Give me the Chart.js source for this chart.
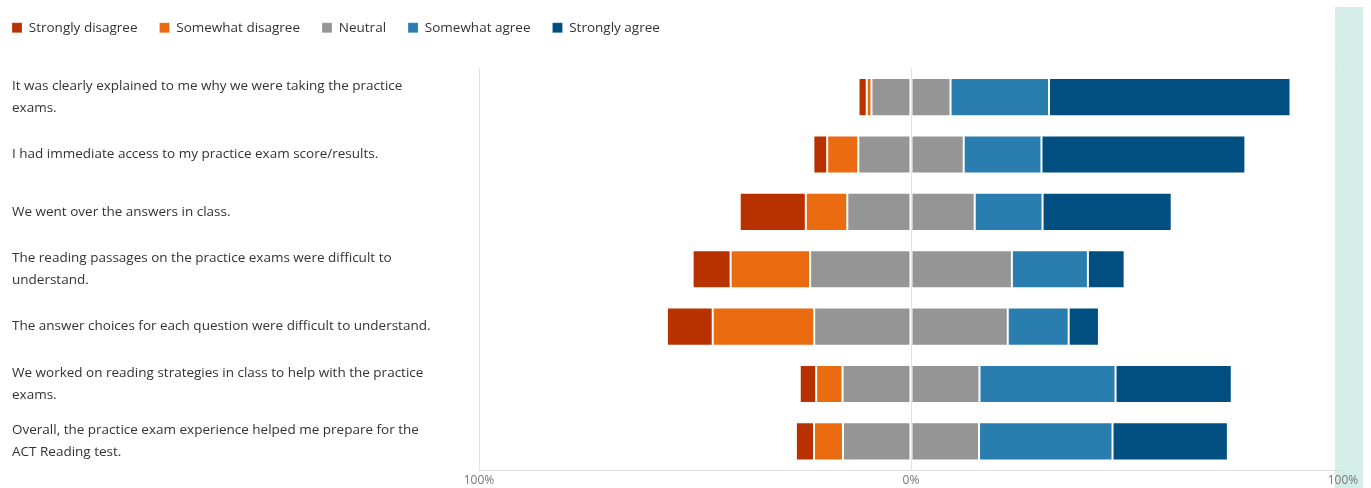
<!DOCTYPE html>
<html>
<head>
<meta charset="utf-8">
<script src="https://cdn.jsdelivr.net/npm/chart.js@4"></script>
<style>
  html, body { margin: 0; padding: 0; background: #fff; }
  #wrap { position: relative; width: 1371px; height: 488px; }
  #strip { position: absolute; left: 1335px; top: 7px; width: 28px; height: 481px; background: rgb(214, 238, 233); }
  canvas { position: absolute; left: 0; top: 0; }
</style>
</head>
<body>
<div id="wrap">
  <div id="strip"></div>
  <canvas id="likert" width="1371" height="488"></canvas>
</div>
<script>
// Questions (y categories)
const questions = [
    ['It was clearly explained to me why we were taking the practice', 'exams.'],
    'I had immediate access to my practice exam score/results.',
    'We went over the answers in class.',
    ['The reading passages on the practice exams were difficult to', 'understand.'],
    'The answer choices for each question were difficult to understand.',
    ['We worked on reading strategies in class to help with the practice', 'exams.'],
    ['Overall, the practice exam experience helped me prepare for the', 'ACT Reading test.'],
];

// Percent of responses
const stronglyDisagree = [1.9, 3.2, 15.3, 8.8, 10.6, 3.8, 4.2];
const somewhatDisagree = [1.1, 7.2, 9.6, 18.4, 23.5, 6.1, 6.7];
const neutral = [18.3, 24.4, 29.5, 46.7, 44.8, 31.7, 31.5];
const somewhatAgree = [22.8, 18.0, 15.7, 17.6, 14.1, 31.5, 30.9];
const stronglyAgree = [55.9, 47.2, 29.9, 8.5, 7.0, 26.9, 26.7];

const xTicks = [-100, 0, 100];

const colors = {
    sd: 'rgb(184, 50, 0)',
    swd: 'rgb(235, 107, 17)',
    n: 'rgb(149, 149, 149)',
    sa: 'rgb(42, 126, 175)',
    sta: 'rgb(0, 79, 128)',
};

const neg = (arr) => arr.map((v) => -v);
const half = (arr, sign) => arr.map((v) => sign * v / 2);

const edge = 'rgba(255, 255, 255, 0.22)';
const makeSet = (label, data, color, rank, hide) => ({
    label,
    data,
    backgroundColor: color,
    borderColor: edge,
    borderWidth: 1,
    borderSkipped: false,
    barPercentage: 0.665,
    categoryPercentage: 1,
    legendRank: rank,
    hideInLegend: !!hide,
});

// negatives stack outward from 0 in dataset order, same for positives
const datasets = [
    makeSet('Neutral', half(neutral, -1), colors.n, 2),
    makeSet('Somewhat disagree', neg(somewhatDisagree), colors.swd, 1),
    makeSet('Strongly disagree', neg(stronglyDisagree), colors.sd, 0),
    makeSet('Neutral', half(neutral, 1), colors.n, 2, true),
    makeSet('Somewhat agree', somewhatAgree, colors.sa, 3),
    makeSet('Strongly agree', stronglyAgree, colors.sta, 4),
];

// nudge legend so it starts at the left edge like the original
const legendShift = {
    id: 'legendShift',
    afterLayout(chart) {
        chart.legend.left -= 22;
        chart.legend.right -= 22;
        chart.legend.top -= 24;
        chart.legend.bottom -= 24;
    },
};

const FONT = 'Open Sans, Noto Sans, sans-serif';

new Chart(document.getElementById('likert'), {
    type: 'bar',
    data: { labels: questions, datasets },
    plugins: [legendShift],
    options: {
        indexAxis: 'y',
        responsive: false,
        animation: false,
        layout: { padding: { left: 12, right: 28, top: 23, bottom: 0 } },
        plugins: {
            tooltip: { enabled: false },
            legend: {
                position: 'top',
                align: 'start',
                labels: {
                    boxWidth: 10,
                    boxHeight: 10,
                    padding: 22,
                    color: '#333',
                    font: { family: FONT, size: 13.5 },
                    filter: (item, data) => !data.datasets[item.datasetIndex].hideInLegend,
                    sort: (a, b, data) => data.datasets[a.datasetIndex].legendRank - data.datasets[b.datasetIndex].legendRank,
                },
            },
        },
        scales: {
            x: {
                stacked: true,
                min: -100,
                max: 100,
                afterBuildTicks: (scale) => { scale.ticks = xTicks.map((v) => ({ value: v })); },
                afterFit: (scale) => { scale.height = 18; },
                ticks: {
                    color: '#777',
                    padding: 3,
                    font: { family: FONT, size: 12 },
                    callback: (v) => Math.abs(v) + '%',
                },
                grid: { color: '#e2e2e2', drawTicks: false },
                border: { color: '#dcdcdc' },
            },
            y: {
                stacked: true,
                afterFit: (scale) => {
                    scale.width = 467;
                    scale.paddingTop = 0;
                    scale.paddingBottom = 0;
                },
                grid: { display: false },
                border: { display: false },
                ticks: {
                    crossAlign: 'far',
                    color: '#333',
                    font: { family: FONT, size: 13.5, lineHeight: 1.6 },
                },
            },
        },
    },
});
</script>
</body>
</html>
